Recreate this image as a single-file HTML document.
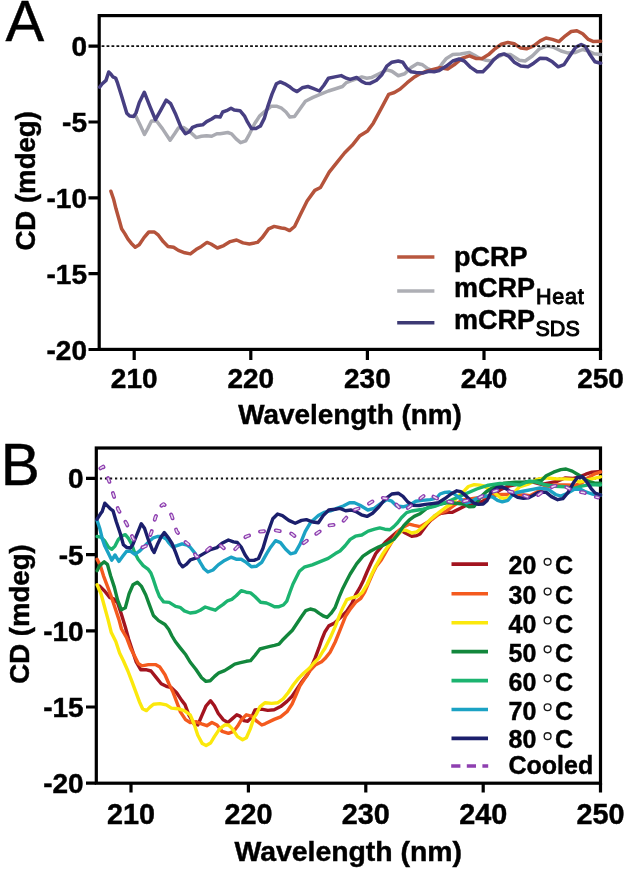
<!DOCTYPE html>
<html><head><meta charset="utf-8"><style>
html,body{margin:0;padding:0;background:#fff;}
svg{display:block;}
text{font-family:"Liberation Sans",sans-serif;fill:#000;stroke:#000;stroke-width:0.45px;}
.b{font-weight:bold;}
</style></head><body>
<svg width="625" height="873" viewBox="0 0 625 873" style="will-change:transform">
<rect width="625" height="873" fill="#fff"/>
<!-- ============ PANEL A ============ -->
<text x="5.6" y="40.5" font-size="58" stroke="none" fill="#1a1a1a">A</text>
<g id="A-axes" stroke="#000" stroke-width="3.2" fill="none">
<rect x="99.2" y="15.6" width="501.3" height="333.8"/>
<path d="M88.5 46.1H99M88.5 122H99M88.5 197.8H99M88.5 273.7H99M88.5 349.5H99"/>
<path d="M134.2 349.5V360M250.8 349.5V360M367.4 349.5V360M484 349.5V360M600.5 349.5V360"/>
</g>
<!--CURVES_A-->
<g fill="none" stroke-width="3.5" stroke-linejoin="round" stroke-linecap="round">
<polyline points="134.5,115.5 136.0,116.5 140.0,124.8 144.5,134.4 147.7,128.6 151.5,121.0 156.6,121.0 162.4,128.6 170.1,140.2 174.6,133.8 178.4,128.0 183.5,127.4 189.9,131.8 196.3,137.6 201.4,136.3 206.6,135.7 211.7,136.3 216.8,133.8 220.1,133.8 227.8,132.5 231.6,133.8 236.1,138.9 240.6,142.7 245.7,140.8 249.6,133.8 254.7,123.5 259.8,115.8 264.9,111.4 271.3,106.2 276.4,106.2 281.6,108.2 286.0,112.0 289.9,117.1 294.5,116.6 299.0,110.2 305.4,101.2 313.0,97.4 320.7,94.2 328.4,91.0 334.8,89.0 342.5,86.5 346.3,82.6 351.4,80.7 356.6,78.8 361.7,76.9 366.8,78.2 371.4,77.6 379.1,73.8 386.8,69.9 391.9,71.2 398.3,75.7 404.7,73.8 411.1,67.4 417.5,63.5 422.6,64.8 427.7,68.6 432.8,70.6 438.0,69.3 441.8,64.2 446.4,58.4 452.8,54.6 460.5,53.9 469.4,52.6 474.6,55.2 479.7,58.4 486.1,60.3 491.2,61.0 496.3,57.8 502.7,54.6 510.4,54.6 515.5,57.8 519.3,60.3 525.1,61.0 532.3,56.0 539.5,48.8 546.7,45.9 553.9,47.4 561.1,51.0 568.3,53.1 575.5,52.4 582.7,49.5 588.4,51.0 594.2,53.8 600.7,54.6" stroke="#aaabb2"/>
<polyline points="110.9,191.2 113.6,199.2 116.0,208.8 119.2,220.0 121.6,228.8 124.8,233.6 128.0,239.2 131.2,243.2 135.2,247.2 139.2,244.8 144.0,237.6 148.8,232.0 154.4,232.0 158.4,235.2 163.2,241.6 168.0,246.4 173.6,247.2 178.4,250.4 184.8,252.8 190.4,253.9 196.0,249.6 201.4,246.4 207.0,242.4 211.0,244.0 217.4,248.0 223.8,245.6 230.2,241.6 236.6,240.0 243.0,242.9 249.4,244.0 257.4,242.4 262.2,237.6 268.6,228.8 274.2,226.4 281.4,228.0 285.0,228.5 289.6,230.6 294.6,226.5 300.4,214.4 307.1,201.0 314.8,190.4 320.5,187.5 329.2,172.2 336.8,162.6 344.5,153.0 352.2,145.3 359.9,135.7 367.6,130.9 373.3,123.2 381.0,108.8 388.7,94.4 394.4,92.5 400.2,89.0 407.2,82.7 413.6,77.6 420.0,73.8 426.4,71.2 434.1,69.3 440.0,67.8 447.7,69.0 454.1,64.8 461.8,58.4 469.4,55.8 475.8,58.4 482.2,58.4 488.6,54.6 495.0,48.8 501.4,44.3 507.8,42.4 514.2,43.7 520.8,48.1 526.5,48.8 533.7,45.9 540.2,40.9 546.0,38.0 552.4,39.4 558.9,41.6 565.4,35.8 571.2,31.5 576.9,30.8 582.7,33.7 588.4,39.4 593.5,41.6 600.7,41.3" stroke="#b5533b"/>
<polyline points="99.6,87.2 102.0,84.0 106.0,80.4 108.7,72.0 110.8,74.0 112.8,76.8 115.6,78.0 117.6,83.2 121.6,96.0 126.8,113.3 129.7,116.1 133.7,116.5 136.0,112.9 139.3,102.5 144.3,92.2 149.6,105.6 155.4,119.7 160.5,110.7 166.2,100.2 170.7,103.7 175.8,114.6 181.0,127.4 185.4,133.8 189.3,131.8 192.5,127.4 197.6,125.4 202.7,124.8 206.6,121.6 211.7,119.0 215.5,116.5 220.1,117.1 222.7,112.0 226.5,110.7 231.0,108.2 234.2,110.1 240.0,110.7 244.4,115.8 247.6,122.2 251.5,128.6 256.0,128.6 260.4,126.1 264.3,118.4 268.1,105.6 272.0,94.1 276.4,83.8 280.3,81.9 284.8,83.8 289.2,86.4 293.0,89.5 297.0,91.6 302.2,87.8 307.9,86.5 313.0,88.4 319.4,91.0 323.9,85.2 328.4,78.2 334.8,76.9 341.2,75.6 346.3,78.2 350.2,79.4 356.6,77.5 361.7,81.4 365.5,83.3 370.1,83.4 376.5,80.2 381.6,75.0 386.8,66.1 391.9,62.2 398.3,61.0 402.8,62.2 406.6,68.0 411.1,71.8 416.2,72.5 422.6,73.1 429.0,71.2 434.1,71.8 439.2,70.6 446.4,66.1 452.8,61.0 459.2,59.0 464.3,61.0 470.7,67.4 477.1,71.8 482.9,71.8 488.6,66.1 493.8,59.7 498.9,55.2 504.0,53.9 509.1,56.5 514.2,62.2 520.8,66.1 528.0,66.8 533.7,63.2 540.2,58.2 546.7,58.6 552.4,61.8 558.2,66.8 564.0,64.6 569.7,56.0 575.5,47.4 581.2,44.5 585.6,46.6 589.9,54.6 594.9,61.8 600.7,63.2" stroke="#473f82"/>
</g>
<!--/CURVES_A-->
<line x1="101.6" y1="46.2" x2="599" y2="46.2" stroke="#111" stroke-width="1.7" stroke-dasharray="2.8 2.15"/>
<g class="b" font-size="28" text-anchor="end">
<text x="87" y="56.1">0</text>
<text x="87" y="132">-5</text>
<text x="87" y="207.8">-10</text>
<text x="87" y="283.7">-15</text>
<text x="87" y="359.5">-20</text>
</g>
<g class="b" font-size="28" text-anchor="middle">
<text x="134.2" y="388.4">210</text>
<text x="250.8" y="388.4">220</text>
<text x="367.4" y="388.4">230</text>
<text x="484" y="388.4">240</text>
<text x="600.5" y="388.4">250</text>
</g>
<text class="b" font-size="27.9" x="238.2" y="424.4">Wavelength (nm)</text>
<text class="b" font-size="27.6" transform="translate(34.7 250.6) rotate(-90)">CD (mdeg)</text>
<!-- legend A -->
<g stroke-width="3.5">
<line x1="397.2" y1="256.9" x2="434.4" y2="256.9" stroke="#b8573f"/>
<line x1="397.2" y1="291" x2="434.4" y2="291" stroke="#aeafb5"/>
<line x1="397.2" y1="322.8" x2="434.4" y2="322.8" stroke="#3d3a74"/>
</g>
<g class="b" font-size="27">
<text x="454" y="266">pCRP</text>
<text x="454" y="297.3">mCRP<tspan font-size="21.5" font-weight="normal" stroke-width="1" letter-spacing="0.8" dx="1" dy="6.5">Heat</tspan></text>
<text x="454" y="329.2">mCRP<tspan font-size="21.5" font-weight="normal" stroke-width="1" letter-spacing="0" dx="0.5" dy="7">SDS</tspan></text>
</g>

<!-- ============ PANEL B ============ -->
<text x="0.8" y="484.6" font-size="58.5" stroke="none" fill="#1a1a1a">B</text>
<g id="B-axes" stroke="#000" stroke-width="3.2" fill="none">
<rect x="96.3" y="448" width="504.2" height="335.2"/>
<path d="M86 478.4H96M86 554.6H96M86 630.8H96M86 707H96M86 783.2H96"/>
<path d="M131 783.2V792.6M248.4 783.2V792.6M365.8 783.2V792.6M483.2 783.2V792.6M600.5 783.2V792.6"/>
</g>
<line x1="99.9" y1="478.4" x2="599" y2="478.4" stroke="#111" stroke-width="2" stroke-dasharray="2.2 2.84"/>
<!--CURVES_B-->
<g fill="none" stroke-width="3.4" stroke-linejoin="round" stroke-linecap="round">
<polyline points="99.7,586.1 104.8,591.2 109.9,597.6 113.8,598.9 117.6,602.7 121.4,614.2 125.3,627.0 128.6,639.0 132.4,650.5 136.2,662.0 140.7,669.7 145.8,669.7 151.0,671.0 156.1,677.4 161.2,683.8 166.3,686.3 171.4,687.6 176.6,692.7 181.7,700.4 185.0,704.6 188.8,714.8 194.0,723.8 197.8,725.0 201.6,716.1 206.1,705.8 210.6,700.7 214.4,705.8 218.3,713.5 223.4,719.9 227.9,722.5 232.4,718.6 236.8,714.8 240.0,716.1 243.9,720.6 247.7,721.2 251.6,717.4 255.0,710.0 261.4,709.1 267.8,710.4 274.2,709.8 280.6,706.6 287.0,701.4 292.1,696.3 297.2,688.6 302.4,681.0 307.5,674.6 311.3,666.9 315.2,657.9 319.0,647.7 321.6,640.0 325.0,631.7 328.8,625.9 334.0,623.4 340.4,617.6 346.8,611.2 351.9,603.5 355.7,594.6 359.6,588.2 363.4,580.5 367.2,571.5 370.7,563.8 375.8,553.5 381.0,547.1 386.1,541.4 391.2,536.9 396.3,532.4 401.4,530.5 405.3,533.0 411.7,536.2 416.8,535.6 420.0,534.0 427.0,524.4 435.0,515.6 441.4,513.2 447.8,512.4 452.0,512.4 460.0,508.4 466.4,505.2 472.0,504.4 477.6,503.6 485.0,500.0 492.0,495.0 500.0,490.0 507.0,486.5 514.6,484.8 520.4,482.9 528.0,481.9 533.8,482.4 541.5,484.3 549.2,482.9 556.8,481.4 565.0,478.0 573.3,478.4 579.5,476.8 585.8,474.2 592.0,472.2 598.2,471.6 600.5,471.5" stroke="#a3141f"/>
<polyline points="97.1,559.2 100.3,565.6 103.5,575.8 107.4,586.1 111.2,596.3 115.0,607.8 118.9,619.4 121.5,629.0 126.6,637.7 130.5,647.9 134.3,655.6 138.2,663.3 142.0,665.8 148.4,664.6 155.4,664.6 159.9,667.1 165.0,674.8 168.9,683.8 172.7,691.4 176.6,701.7 180.4,711.9 185.5,719.6 190.1,722.5 196.5,721.8 201.6,723.8 206.8,725.7 211.9,722.5 217.0,725.0 222.1,731.4 228.5,733.4 233.6,731.4 237.5,726.3 241.3,719.9 246.4,714.8 251.6,716.1 256.7,721.2 261.8,725.0 265.0,723.8 274.2,719.4 280.6,716.8 287.0,711.7 292.1,704.0 296.0,695.0 299.8,686.1 304.9,678.4 310.0,670.7 315.2,665.0 321.6,661.8 325.0,658.6 330.1,652.2 335.2,642.0 340.4,629.1 345.5,616.3 350.6,608.6 355.7,602.2 360.8,598.4 364.7,592.0 368.5,583.0 372.4,574.1 376.2,566.4 381.3,560.0 387.0,550.0 393.0,540.0 398.0,531.0 404.0,526.6 409.1,524.1 414.2,525.4 420.0,526.6 423.8,524.4 431.8,519.6 439.8,513.5 446.4,511.0 452.0,506.8 457.6,502.8 463.2,500.0 470.0,499.0 480.0,497.5 490.0,496.0 500.0,494.5 510.0,494.5 518.0,495.0 524.2,494.9 530.0,495.8 537.0,492.0 545.0,487.0 555.0,485.0 565.0,485.0 575.4,485.2 581.6,483.1 587.8,477.9 594.1,474.2 600.5,472.2" stroke="#f45a1e"/>
<polyline points="97.1,584.8 101.0,593.8 104.8,607.8 108.0,619.4 111.3,632.6 115.8,641.5 119.6,653.0 123.4,660.7 127.9,671.0 131.8,681.2 135.6,691.4 139.4,701.7 142.6,708.7 146.5,710.6 149.7,707.4 153.5,704.2 159.9,703.6 166.3,704.9 171.4,708.1 177.8,708.7 184.2,710.6 190.1,714.8 194.0,723.8 197.8,735.3 202.3,743.6 206.1,745.5 210.6,743.0 214.4,736.6 219.6,728.9 224.7,725.0 228.5,725.0 232.4,728.9 237.5,736.6 242.6,739.8 246.4,737.8 250.3,728.9 254.1,717.4 256.3,714.2 260.1,706.6 265.2,702.7 271.6,703.4 278.0,702.7 283.2,698.9 288.3,692.5 293.4,684.8 298.5,678.4 303.6,673.3 308.8,668.8 313.9,663.0 319.0,657.9 322.8,651.5 325.0,648.3 330.1,638.1 335.2,626.6 339.1,616.3 342.9,607.4 346.8,599.7 351.9,597.8 357.0,596.5 362.1,592.6 367.2,584.3 371.1,575.4 374.9,567.7 377.1,563.8 382.2,554.8 387.4,547.1 392.5,540.7 397.6,535.0 402.7,529.8 406.6,530.5 411.7,533.0 416.8,531.8 422.2,527.6 430.2,519.6 438.2,513.2 446.4,506.8 451.2,504.4 458.4,496.0 464.6,490.4 468.4,486.5 474.2,484.6 480.0,485.1 483.8,486.0 487.6,488.4 491.5,490.4 496.3,494.2 500.1,497.6 504.9,498.5 508.8,497.1 512.6,494.2 519.4,487.0 529.0,483.8 536.7,479.5 545.3,477.8 556.6,478.9 565.0,478.9 573.3,479.4 579.5,482.0 583.7,481.0 589.9,479.4 596.2,477.9 600.5,476.8" stroke="#fbe80c"/>
<polyline points="97.1,570.7 99.7,565.6 104.2,561.8 107.4,564.3 110.6,575.8 114.4,587.4 117.6,600.2 121.4,609.8 125.3,607.8 129.1,593.8 133.0,584.8 137.4,582.2 141.3,586.1 145.8,595.0 149.6,605.3 153.4,615.5 158.6,620.6 165.0,624.5 168.8,629.6 172.0,636.0 175.3,641.5 180.0,647.6 185.8,654.8 190.1,662.0 195.8,669.2 201.6,677.8 205.9,681.4 210.2,680.7 214.6,676.4 218.9,672.8 224.6,670.6 230.4,667.0 234.7,664.2 240.5,662.7 246.2,661.3 250.6,660.6 254.9,655.5 259.9,649.0 265.0,647.6 270.0,646.4 274.5,645.4 279.0,644.2 282.3,640.3 286.8,635.8 292.4,630.2 296.9,623.5 301.4,616.8 305.8,610.6 310.3,609.0 314.8,610.1 319.3,613.4 323.8,616.2 327.1,617.4 331.0,613.4 335.0,607.8 339.1,597.1 342.9,588.2 346.8,580.5 350.2,574.0 356.6,563.8 363.0,556.1 370.7,551.0 378.4,547.1 386.1,543.9 393.8,539.4 398.9,533.0 404.0,525.4 409.1,520.2 414.2,516.4 420.0,513.8 426.9,508.2 435.0,505.0 447.8,502.5 458.0,503.5 463.4,504.0 469.0,506.8 474.0,506.5 480.6,497.0 486.0,492.0 492.2,488.0 503.7,483.2 515.2,482.3 525.0,482.0 533.0,481.5 541.5,480.5 546.2,475.8 553.5,472.2 560.8,469.6 566.0,469.0 572.2,471.1 577.4,474.2 581.6,476.8 585.8,480.0 589.9,482.0 595.1,483.1 600.5,483.1" stroke="#12873c"/>
<polyline points="97.1,536.5 101.0,537.1 104.8,541.0 108.6,547.4 111.8,549.3 115.0,546.1 118.2,539.7 122.1,535.8 125.3,534.6 128.5,538.4 131.7,544.2 134.2,551.5 138.1,559.2 143.2,565.6 148.3,569.4 150.9,573.0 153.4,579.7 156.4,588.8 159.6,596.8 163.6,601.9 169.2,602.4 175.6,606.4 180.0,607.3 184.3,610.9 190.1,613.0 195.8,612.3 200.2,610.2 205.2,607.0 210.2,608.7 215.3,610.2 218.9,607.3 223.2,604.4 227.5,600.8 231.8,599.4 236.2,595.8 241.2,590.7 246.2,592.2 250.6,592.9 254.9,596.5 260.6,602.2 266.4,603.0 270.0,604.5 274.5,606.7 279.0,606.7 283.4,605.0 286.8,601.1 290.0,592.0 293.0,584.0 299.4,571.2 304.2,567.2 312.2,564.8 320.2,561.6 328.2,558.4 335.4,553.6 340.0,551.0 345.1,545.8 350.2,539.4 355.4,536.2 361.8,535.0 368.2,531.1 374.6,529.2 379.7,527.9 384.8,529.2 389.9,529.8 393.8,526.6 397.6,522.8 401.4,517.7 406.6,512.6 411.7,511.0 423.0,509.2 434.6,506.3 448.0,501.5 463.4,494.8 476.8,489.0 488.3,485.2 499.8,483.5 510.8,484.0 520.0,485.0 529.0,481.0 536.0,482.0 545.3,484.8 555.0,486.2 565.0,486.7 569.1,487.5 574.3,488.3 581.6,486.2 589.9,484.6 600.5,485.0" stroke="#1cb470"/>
<polyline points="97.1,520.5 99.7,528.2 102.2,538.4 104.8,546.1 107.4,551.2 111.8,560.2 115.0,555.0 118.9,561.4 122.7,556.3 126.6,551.2 130.4,551.2 134.9,554.4 139.4,551.2 144.5,546.1 149.6,541.0 153.4,537.8 157.3,536.5 161.8,536.5 166.2,539.0 169.0,543.0 172.5,547.0 177.0,545.7 182.1,543.8 187.2,545.0 190.0,547.0 195.1,553.4 200.2,562.4 204.1,568.8 207.9,572.0 213.0,570.0 218.2,564.9 224.6,560.4 231.0,557.2 236.1,559.2 241.2,559.2 246.3,562.4 251.4,566.8 256.6,566.2 261.7,562.4 266.8,553.4 270.6,547.2 275.5,540.7 280.5,542.6 285.5,549.0 290.5,553.8 295.3,552.6 300.1,544.2 305.3,531.4 310.5,522.6 318.4,515.6 324.0,512.4 330.4,510.8 336.8,508.4 343.2,506.0 349.6,502.8 354.4,502.8 360.0,505.2 367.8,510.0 374.2,508.4 380.6,503.6 387.0,499.6 391.8,501.2 396.6,506.0 403.0,506.8 409.4,505.2 415.8,501.2 422.2,500.4 430.2,499.6 436.6,498.0 440.0,494.0 444.8,492.4 449.6,492.0 454.4,494.0 458.4,497.2 462.4,500.4 466.4,502.8 470.4,502.0 474.4,499.6 480.0,497.0 487.0,496.0 492.7,497.0 497.5,500.3 502.3,501.8 508.0,500.3 511.9,495.5 516.7,492.5 524.2,491.0 533.8,489.1 540.0,488.0 548.3,489.3 555.6,494.5 560.8,496.1 567.0,493.5 574.3,489.3 580.6,489.3 585.8,491.9 592.0,494.0 600.5,495.0" stroke="#1ba2c4"/>
<polyline points="97.1,519.2 100.3,514.1 102.2,511.5 104.8,503.2 108.0,506.4 110.6,509.0 113.1,510.9 116.3,521.8 120.2,533.3 123.4,544.8 126.6,547.4 130.4,548.0 133.0,544.2 137.4,533.3 141.3,523.7 144.5,528.2 148.3,539.7 152.2,549.3 154.1,552.5 157.3,544.8 161.1,537.1 164.3,532.6 168.8,538.4 172.0,543.5 175.7,552.7 179.5,563.0 182.7,566.8 186.6,564.2 190.4,559.8 196.4,557.9 204.1,553.4 210.5,549.6 216.9,547.6 222.0,543.2 228.4,540.0 233.5,541.9 237.4,542.5 241.2,547.0 245.0,554.7 248.9,560.4 254.0,560.4 258.5,558.5 263.0,548.3 266.8,535.5 272.8,518.8 277.6,514.0 282.4,515.6 288.8,520.4 295.2,523.3 301.6,520.4 306.4,519.6 312.8,522.0 318.4,522.8 323.2,515.6 328.8,510.0 335.2,509.2 340.0,508.4 345.6,510.8 351.2,510.0 356.0,511.6 361.4,514.8 367.0,516.4 372.6,513.2 379.0,506.8 385.4,498.8 391.8,494.0 398.2,493.2 403.0,496.4 407.8,502.0 412.6,505.2 419.0,505.5 425.4,504.4 431.8,503.6 438.2,502.8 444.6,498.8 451.0,494.0 456.8,490.8 460.8,491.6 464.8,494.8 468.8,498.8 473.6,502.8 478.4,504.4 483.2,504.0 487.2,500.4 490.8,492.6 496.5,487.8 502.3,486.9 508.0,489.8 512.8,494.6 517.6,497.4 523.4,498.4 528.2,497.9 533.0,495.5 537.8,492.6 541.0,492.0 546.2,492.4 551.4,496.6 557.7,499.7 562.9,498.7 568.1,492.4 573.3,483.1 577.4,477.4 582.6,476.8 586.8,482.0 591.0,488.3 595.1,493.0 600.5,495.0" stroke="#1b1f6c"/>
<polyline points="97.2,470.8 100.5,468.3 103.2,466.6 105.0,470.5 107.2,476.0 109.2,481.2 113.0,493.4 118.2,509.6 126.6,523.7 133.0,538.4 138.0,545.0 142.6,547.4 145.8,546.1 151.5,532.0 155.4,517.3 160.0,507.0 163.4,504.1 167.0,507.0 171.7,515.7 176.7,531.5 185.9,542.4 190.0,545.7 196.4,556.6 200.2,556.6 209.2,548.3 213.7,545.7 219.4,544.4 223.9,548.3 234.8,549.6 238.6,545.7 245.7,536.8 259.1,531.6 276.2,530.4 291.4,533.6 303.4,543.2 315.4,534.4 328.2,525.6 341.0,524.0 352.0,510.8 365.4,506.0 379.0,497.2 391.8,499.6 403.0,511.6 415.8,502.0 427.0,493.2 440.6,500.4 456.0,502.8 460.8,502.0 472.0,499.6 476.8,498.8 488.0,493.2 499.4,489.8 507.0,491.0 514.8,492.6 519.4,493.9 532.8,498.7 545.3,490.1 553.0,486.5 560.7,484.3 566.0,487.0 574.3,491.4 583.7,492.5 592.0,496.1 598.2,497.6" stroke="#8e3fb0" stroke-width="3.8" stroke-linecap="round" stroke-dasharray="4.2 11.57" stroke-dashoffset="11.86"/>
<polyline points="97.2,470.8 100.5,468.3 103.2,466.6 105.0,470.5 107.2,476.0 109.2,481.2 113.0,493.4 118.2,509.6 126.6,523.7 133.0,538.4 138.0,545.0 142.6,547.4 145.8,546.1 151.5,532.0 155.4,517.3 160.0,507.0 163.4,504.1 167.0,507.0 171.7,515.7 176.7,531.5 185.9,542.4 190.0,545.7 196.4,556.6 200.2,556.6 209.2,548.3 213.7,545.7 219.4,544.4 223.9,548.3 234.8,549.6 238.6,545.7 245.7,536.8 259.1,531.6 276.2,530.4 291.4,533.6 303.4,543.2 315.4,534.4 328.2,525.6 341.0,524.0 352.0,510.8 365.4,506.0 379.0,497.2 391.8,499.6 403.0,511.6 415.8,502.0 427.0,493.2 440.6,500.4 456.0,502.8 460.8,502.0 472.0,499.6 476.8,498.8 488.0,493.2 499.4,489.8 507.0,491.0 514.8,492.6 519.4,493.9 532.8,498.7 545.3,490.1 553.0,486.5 560.7,484.3 566.0,487.0 574.3,491.4 583.7,492.5 592.0,496.1 598.2,497.6" stroke="#eadcf1" stroke-width="1.5" stroke-linecap="round" stroke-dasharray="3.4 12.37" stroke-dashoffset="11.46"/>
</g>
<!--/CURVES_B-->
<g class="b" font-size="28" text-anchor="end">
<text x="83.7" y="488.4">0</text>
<text x="83.7" y="564.6">-5</text>
<text x="83.7" y="640.8">-10</text>
<text x="83.7" y="717">-15</text>
<text x="83.7" y="793.2">-20</text>
</g>
<g class="b" font-size="28.8" text-anchor="middle">
<text x="131" y="823.6">210</text>
<text x="248.4" y="823.6">220</text>
<text x="365.8" y="823.6">230</text>
<text x="483.2" y="823.6">240</text>
<text x="600.5" y="823.6">250</text>
</g>
<text class="b" font-size="28.4" x="234.4" y="861.2">Wavelength (nm)</text>
<text class="b" font-size="27.6" transform="translate(29.3 683.8) rotate(-90)">CD (mdeg)</text>
<!-- legend B -->
<g stroke-width="3.6" fill="none">
<line x1="451.5" y1="564.1" x2="488" y2="564.1" stroke="#a3141f"/>
<line x1="451.5" y1="593.8" x2="488" y2="593.8" stroke="#f45a1e"/>
<line x1="451.5" y1="622.7" x2="488" y2="622.7" stroke="#fbe80c"/>
<line x1="451.5" y1="651.6" x2="488" y2="651.6" stroke="#12873c"/>
<line x1="451.5" y1="680.6" x2="488" y2="680.6" stroke="#1cb470"/>
<line x1="451.5" y1="709.5" x2="488" y2="709.5" stroke="#1ba2c4"/>
<line x1="451.5" y1="738.4" x2="488" y2="738.4" stroke="#1b1f6c"/>
<line x1="451.2" y1="766" x2="488.2" y2="766" stroke="#8e3fb0" stroke-dasharray="9.2 6.4"/>
</g>
<g class="b" font-size="25">
<text x="508.5" y="574.1">20</text>
<text x="508.5" y="603.8">30</text>
<text x="508.5" y="632.7">40</text>
<text x="508.5" y="661.6">50</text>
<text x="508.5" y="690.6">60</text>
<text x="508.5" y="719.5">70</text>
<text x="508.5" y="748.4">80</text>
<text x="555" y="574.1">C</text>
<text x="555" y="603.8">C</text>
<text x="555" y="632.7">C</text>
<text x="555" y="661.6">C</text>
<text x="555" y="690.6">C</text>
<text x="555" y="719.5">C</text>
<text x="555" y="748.4">C</text>
<text x="508.5" y="774.4">Cooled</text>
</g>
<g fill="none" stroke="#1a1a1a" stroke-width="1.4">
<circle cx="547.6" cy="561.85" r="3.4"/>
<circle cx="547.6" cy="591.55" r="3.4"/>
<circle cx="547.6" cy="620.45" r="3.4"/>
<circle cx="547.6" cy="649.35" r="3.4"/>
<circle cx="547.6" cy="678.35" r="3.4"/>
<circle cx="547.6" cy="707.25" r="3.4"/>
<circle cx="547.6" cy="736.15" r="3.4"/>
</g>

</svg>
</body></html>
